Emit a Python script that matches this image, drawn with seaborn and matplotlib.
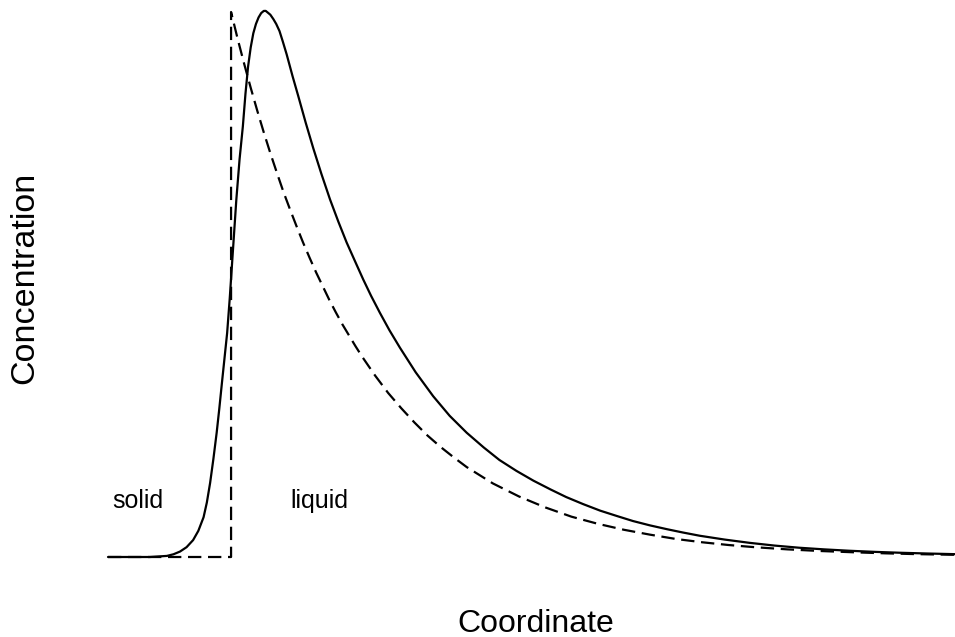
import pandas as pd
import matplotlib
matplotlib.use('Agg')
import matplotlib.pyplot as plt
import seaborn as sns

sns.set_style('white')
plt.rcParams['font.family'] = ['Liberation Sans', 'DejaVu Sans']
plt.rcParams['text.color'] = 'black'

# Concentration profiles across the interface (coordinate 0 = interface)
solid_x = [-0.94, -0.62, -0.49, -0.44, -0.39, -0.34, -0.29, -0.25, -0.21, -0.185,
           -0.16, -0.135, -0.11, -0.09, -0.07, -0.05, -0.03, -0.01, 0.015, 0.04,
           0.065, 0.09, 0.11, 0.13, 0.15, 0.17, 0.19, 0.21, 0.23, 0.25, 0.265,
           0.28, 0.30, 0.323, 0.345, 0.37, 0.395, 0.425, 0.47, 0.513, 0.57, 0.628,
           0.69, 0.756, 0.82, 0.883, 0.95, 1.01, 1.07, 1.137, 1.21, 1.29, 1.41,
           1.544, 1.67, 1.80, 1.93, 2.05, 2.18, 2.31, 2.44, 2.56, 2.69, 2.82,
           2.95, 3.07, 3.20, 3.33, 3.45, 3.58, 3.77, 3.96, 4.15, 4.34, 4.53,
           4.72, 4.92, 5.11, 5.32, 5.53]
solid_c = [0.0, 0.0, 0.002, 0.005, 0.010, 0.018, 0.031, 0.048, 0.073, 0.100,
           0.136, 0.180, 0.228, 0.272, 0.319, 0.365, 0.411, 0.475, 0.565, 0.655,
           0.730, 0.790, 0.850, 0.900, 0.935, 0.961, 0.978, 0.990, 0.998, 1.002, 1.002,
           0.999, 0.995, 0.987, 0.978, 0.965, 0.946, 0.922, 0.882, 0.846, 0.797, 0.750,
           0.703, 0.656, 0.615, 0.577, 0.541, 0.509, 0.479, 0.448, 0.416, 0.384, 0.339,
           0.295, 0.259, 0.228, 0.201, 0.178, 0.158, 0.140, 0.124, 0.110, 0.097, 0.085,
           0.075, 0.066, 0.058, 0.051, 0.045, 0.039, 0.032, 0.026, 0.021, 0.017, 0.014,
           0.0115, 0.0094, 0.0078, 0.0064, 0.0052]

sharp_x = [-0.94, 0.0, 0.0, 0.05, 0.1, 0.15, 0.2, 0.25, 0.3, 0.35, 0.4, 0.45, 0.5,
           0.55, 0.6, 0.65, 0.7, 0.75, 0.8, 0.85, 0.9, 0.95, 1.0, 1.1, 1.2, 1.3,
           1.4, 1.5, 1.6, 1.7, 1.8, 1.9, 2.0, 2.2, 2.4, 2.6, 2.8, 3.0, 3.2, 3.4,
           3.6, 3.8, 4.0, 4.25, 4.5, 4.75, 5.0, 5.25, 5.53]
sharp_c = [0.0, 0.0, 1.0, 0.951, 0.905, 0.861, 0.819, 0.779, 0.741, 0.705, 0.670,
           0.638, 0.607, 0.577, 0.549, 0.522, 0.497, 0.472, 0.449, 0.427, 0.407,
           0.387, 0.368, 0.333, 0.301, 0.273, 0.247, 0.223, 0.202, 0.183, 0.165,
           0.150, 0.135, 0.111, 0.091, 0.074, 0.061, 0.050, 0.041, 0.033, 0.027,
           0.022, 0.018, 0.014, 0.011, 0.0087, 0.0067, 0.0052, 0.004]

region_labels = ['solid', 'liquid']
region_x = [-0.714, 0.672]
region_y = [0.09, 0.09]

df_smooth = pd.DataFrame({'x': solid_x, 'c': solid_c})
df_sharp = pd.DataFrame({'x': sharp_x, 'c': sharp_c})

fig = plt.figure(figsize=(9.55, 6.37), dpi=100)
ax = fig.add_axes([0.1131, 0.12559, 1 - 0.1131, 0.85557])

sns.lineplot(data=df_smooth, x='x', y='c', ax=ax, color='black', linewidth=1.6,
             estimator=None, sort=False, clip_on=False)
sns.lineplot(data=df_sharp, x='x', y='c', ax=ax, color='black', linewidth=1.6,
             estimator=None, sort=False, clip_on=False)
ax.lines[-1].set_dashes((6, 3))

ax.set_xlim(-0.94, 5.53)
ax.set_ylim(0, 1.0)
ax.set_axis_off()

for lab, x, y in zip(region_labels, region_x, region_y):
    ax.text(x, y, lab, fontsize=18, color='black', ha='center', va='baseline')

fig.text(0.561, 0.0083, 'Coordinate', fontsize=23, color='black',
         ha='center', va='baseline')
fig.text(0.0262, (637 - 278) / 637, 'Concentration', fontsize=24.5, color='black',
         rotation=90, ha='center', va='center')

fig.savefig('out.png', dpi=100)
